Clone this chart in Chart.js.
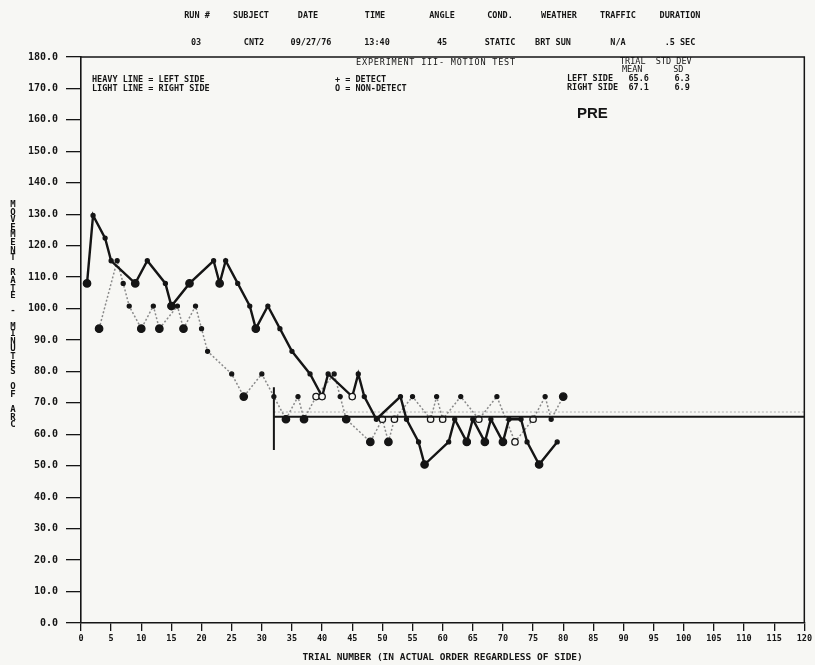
<!DOCTYPE html>
<html>
<head>
<meta charset="utf-8">
<script src="https://cdn.jsdelivr.net/npm/chart.js@4.4.0/dist/chart.umd.min.js"></script>
<style>
  html, body { margin: 0; padding: 0; background: #f7f7f4; }
  #wrap { position: relative; width: 815px; height: 665px; overflow: hidden; font-family: "DejaVu Sans Mono", monospace; color: #151515; }
  #wrap canvas { position: absolute; left: 0; top: 0; }
  .c { position: absolute; white-space: pre; font-weight: bold; font-size: 8.5px; line-height: 1; transform: translate(-50%, -50%); z-index: 2; }
  .l { position: absolute; white-space: pre; font-weight: bold; font-size: 8.5px; line-height: 1; z-index: 2; }
  #ytitle { position: absolute; left: 8px; top: 199px; writing-mode: vertical-rl; text-orientation: upright; font-size: 9px; letter-spacing: -2.4px; font-weight: bold; z-index: 2; }
  #pre { position: absolute; left: 577px; top: 104px; font-family: "Liberation Sans", Arial, sans-serif; font-weight: bold; font-size: 15px; z-index: 2; }
</style>
</head>
<body>
<div id="wrap">
  <canvas id="chart" width="815" height="665"></canvas>

  <div class="c" style="left:197px;top:15px">RUN #</div>
  <div class="c" style="left:251px;top:15px">SUBJECT</div>
  <div class="c" style="left:308px;top:15px">DATE</div>
  <div class="c" style="left:375px;top:15px">TIME</div>
  <div class="c" style="left:442px;top:15px">ANGLE</div>
  <div class="c" style="left:500px;top:15px">COND.</div>
  <div class="c" style="left:559px;top:15px">WEATHER</div>
  <div class="c" style="left:618px;top:15px">TRAFFIC</div>
  <div class="c" style="left:680px;top:15px">DURATION</div>

  <div class="c" style="left:196px;top:42px">03</div>
  <div class="c" style="left:254px;top:42px">CNT2</div>
  <div class="c" style="left:311px;top:42px">09/27/76</div>
  <div class="c" style="left:377px;top:42px">13:40</div>
  <div class="c" style="left:442px;top:42px">45</div>
  <div class="c" style="left:500px;top:42px">STATIC</div>
  <div class="c" style="left:553px;top:42px">BRT SUN</div>
  <div class="c" style="left:618px;top:42px">N/A</div>
  <div class="c" style="left:680px;top:42px">.5 SEC</div>

  <div class="c" style="left:436px;top:62px;font-weight:normal;letter-spacing:0.8px">EXPERIMENT III- MOTION TEST</div>

  <div class="l" style="left:92px;top:75px">HEAVY LINE = LEFT SIDE</div>
  <div class="l" style="left:92px;top:84px">LIGHT LINE = RIGHT SIDE</div>
  <div class="l" style="left:335px;top:75px">+ = DETECT</div>
  <div class="l" style="left:335px;top:84px">O = NON-DETECT</div>

  <div class="l" style="left:620px;top:57px;font-weight:normal">TRIAL  STD DEV</div>
  <div class="l" style="left:622px;top:65px;font-weight:normal">MEAN      SD</div>
  <div class="l" style="left:567px;top:74px">LEFT SIDE   65.6     6.3</div>
  <div class="l" style="left:567px;top:83px">RIGHT SIDE  67.1     6.9</div>
  <div id="pre">PRE</div>

  <div id="ytitle">MOVEMENT RATE - MINUTES OF ARC</div>
</div>

<script>
// left side (heavy line): trial number, movement rate, marker kind
// kinds: p = detect (small dot), b = big dot, o = non-detect
const leftTrial = [1, 2, 4, 5, 9, 11, 14, 15, 18, 22, 23, 24, 26, 28, 29, 31, 33, 35, 38, 40, 41,
  45, 46, 47, 49, 53, 54, 56, 57, 61, 62, 64, 65, 67, 68, 70, 71, 73, 74, 76, 79];
const leftRate = [108.0, 129.6, 122.4, 115.2, 108.0, 115.2, 108.0, 100.8, 108.0, 115.2, 108.0, 115.2,
  108.0, 100.8, 93.6, 100.8, 93.6, 86.4, 79.2, 72.0, 79.2,
  72.0, 79.2, 72.0, 64.8, 72.0, 64.8, 57.6, 50.4, 57.6, 64.8, 57.6, 64.8, 57.6, 64.8, 57.6, 64.8,
  64.8, 57.6, 50.4, 57.6];
const leftKind = ["b", "p", "p", "p", "b", "p", "p", "b", "b", "p", "b", "p", "p", "p", "b", "p", "p", "p", "p", "o", "p",
  "o", "p", "p", "p", "p", "p", "p", "b", "p", "p", "b", "p", "b", "p", "b", "p", "p", "p", "b", "p"];

// right side (light line)
const rightTrial = [3, 6, 7, 8, 10, 12, 13, 16, 17, 19, 20, 21, 25, 27, 30, 32, 34, 36, 37, 39,
  42, 43, 44, 48, 50, 51, 52, 55, 58, 59, 60, 63, 66, 69, 72, 75, 77, 78, 80];
const rightRate = [93.6, 115.2, 108.0, 100.8, 93.6, 100.8, 93.6, 100.8, 93.6, 100.8, 93.6, 86.4,
  79.2, 72.0, 79.2, 72.0, 64.8, 72.0, 64.8, 72.0,
  79.2, 72.0, 64.8, 57.6, 64.8, 57.6, 64.8, 72.0, 64.8, 72.0, 64.8, 72.0, 64.8, 72.0, 57.6, 64.8,
  72.0, 64.8, 72.0];
const rightKind = ["b", "p", "p", "p", "b", "p", "b", "p", "b", "p", "p", "p", "p", "b", "p", "p", "b", "p", "b", "o",
  "p", "p", "b", "b", "o", "b", "o", "p", "o", "p", "o", "p", "o", "p", "o", "o", "p", "p", "b"];

// trial means (drawn from trial 32 on) and the marker at the start
const meanStart = 32;
const leftMean = 65.6;
const rightMean = 67.1;
const startBar = [55, 75];

const xTicks = { min: 0, max: 120, step: 5 };
const yTicks = { min: 0, max: 180, step: 10 };

const INK = "#151515";
const MONO = "'DejaVu Sans Mono', monospace";

function pts(xs, ys) {
  return xs.map((x, i) => ({ x: x, y: ys[i] }));
}

function radiusFor(kinds) {
  return ctx => {
    const k = kinds[ctx.dataIndex];
    return k === "b" ? 3.7 : k === "o" ? 3.2 : 2;
  };
}

function fillFor(kinds) {
  return ctx => kinds[ctx.dataIndex] === "o" ? "#f7f7f4" : INK;
}

// frame round the plot (top and right edges)
const framePlugin = {
  id: "frame",
  afterDraw(chart) {
    const a = chart.chartArea;
    const c = chart.ctx;
    c.save();
    c.strokeStyle = INK;
    c.lineWidth = 1.5;
    c.beginPath();
    c.moveTo(a.left, a.top);
    c.lineTo(a.right, a.top);
    c.lineTo(a.right, a.bottom);
    c.stroke();
    c.restore();
  }
};

new Chart(document.getElementById("chart"), {
  type: "line",
  data: {
    datasets: [
      {
        label: "Left side",
        data: pts(leftTrial, leftRate),
        borderColor: INK,
        borderWidth: 2.4,
        pointRadius: radiusFor(leftKind),
        pointBackgroundColor: fillFor(leftKind),
        pointBorderColor: INK,
        pointBorderWidth: 1.3,
        tension: 0
      },
      {
        label: "Left mean",
        data: pts([meanStart, xTicks.max], [leftMean, leftMean]),
        borderColor: INK,
        borderWidth: 2,
        pointRadius: 0
      },
      {
        label: "Start",
        data: pts([meanStart, meanStart], startBar),
        borderColor: INK,
        borderWidth: 2,
        pointRadius: 0
      },
      {
        label: "Right side",
        data: pts(rightTrial, rightRate),
        borderColor: "#8a8a8a",
        borderWidth: 1.5,
        borderDash: [2, 2],
        pointRadius: radiusFor(rightKind),
        pointBackgroundColor: fillFor(rightKind),
        pointBorderColor: INK,
        pointBorderWidth: 1.3,
        tension: 0
      },
      {
        label: "Right mean",
        data: pts([meanStart, xTicks.max], [rightMean, rightMean]),
        borderColor: "#b0b0b0",
        borderWidth: 1,
        borderDash: [2, 2],
        pointRadius: 0
      }
    ]
  },
  options: {
    responsive: false,
    animation: false,
    layout: { padding: { top: 57, right: 10, left: 0, bottom: 0 } },
    plugins: {
      legend: { display: false },
      tooltip: { enabled: false }
    },
    scales: {
      x: {
        type: "linear",
        min: xTicks.min,
        max: xTicks.max,
        afterFit: s => { s.height = 42; },
        ticks: {
          stepSize: xTicks.step,
          autoSkip: false,
          maxRotation: 0,
          color: INK,
          padding: 3,
          font: { family: MONO, size: 8.5, weight: "bold" }
        },
        grid: { drawOnChartArea: false, tickLength: 8, color: INK, lineWidth: 1.3 },
        border: { color: INK, width: 1.6 },
        title: {
          display: true,
          text: "TRIAL NUMBER (IN ACTUAL ORDER REGARDLESS OF SIDE)",
          color: INK,
          padding: { top: 0, bottom: 2 },
          font: { family: MONO, size: 9.5, weight: "bold" }
        }
      },
      y: {
        min: yTicks.min,
        max: yTicks.max,
        afterFit: s => { s.width = 81; },
        ticks: {
          stepSize: yTicks.step,
          autoSkip: false,
          color: INK,
          padding: 8,
          callback: v => v.toFixed(1),
          font: { family: MONO, size: 10, weight: "bold" }
        },
        grid: { drawOnChartArea: false, tickLength: 15, color: INK, lineWidth: 1.3 },
        border: { color: INK, width: 1.6 }
      }
    }
  },
  plugins: [framePlugin]
});
</script>
</body>
</html>
